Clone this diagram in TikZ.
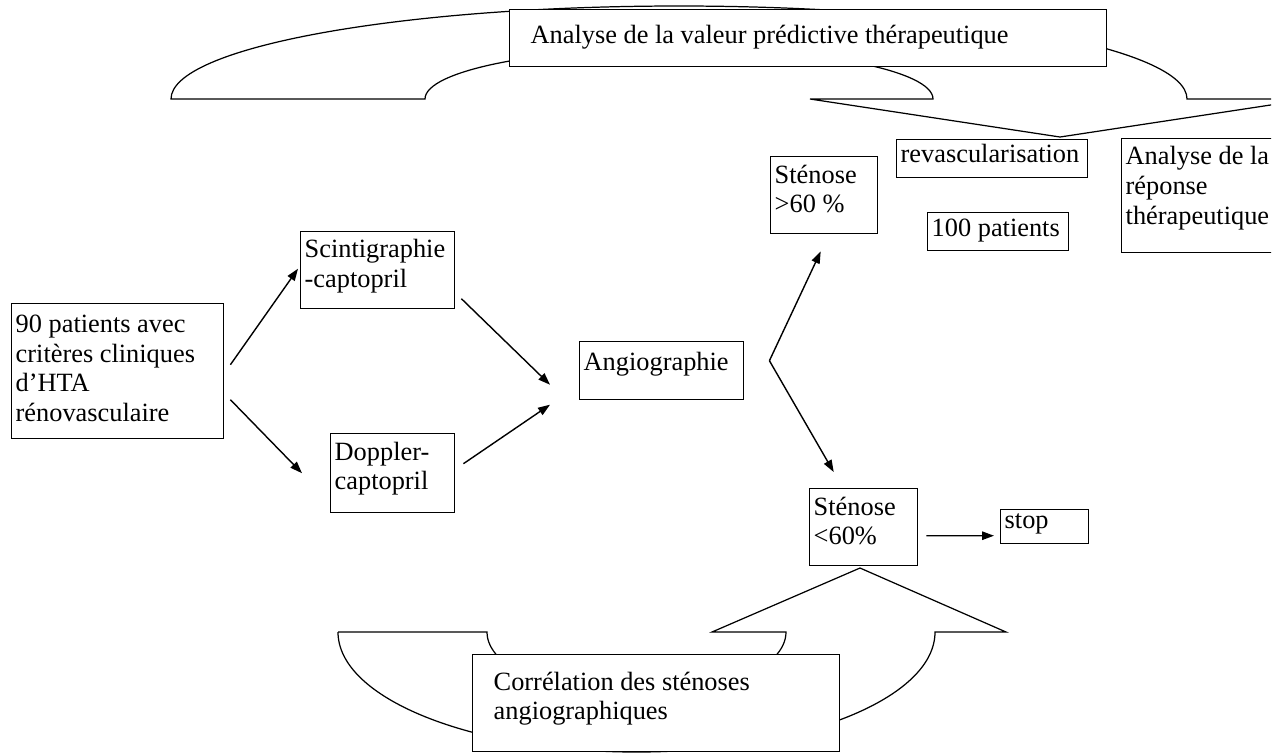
\documentclass[tikz,border=0pt]{standalone}
\usepackage{fontspec}
\setmainfont{Liberation Serif}
\usetikzlibrary{calc,arrows.meta}
\newdimen\pxunit \pxunit=0.02cm
\def\boxtext[#1:#2](#3:#4)#5{\parbox[t][#4\pxunit][t]{#3\pxunit}{\vspace*{#2\pxunit}\raggedright\leftskip=#1\pxunit\relax #5}}
\tikzset{
	pbox/.style={draw, fill=white, anchor=north west, inner sep=0pt, line width=0.8pt},
	arr/.style={-{Triangle[length=0.24cm,width=0.17cm]}, line width=0.8pt},
	bend shape/.style={draw, fill=white, line width=0.7pt},
}

\begin{document}
\begin{tikzpicture}[x=0.02cm, y=-0.02cm, font=\fontsize{15}{17}\selectfont]
			%%%%% START %%%%%
			\useasboundingbox (0,0) rectangle (1280,755);
			\clip (0,0) rectangle (1271,755);
			
			% top bent arrow, box on top of it
			\draw[bend shape] (172,99) -- (425,99) arc[start angle=180, end angle=360, x radius=254, y radius=51] -- (810,99) -- (1060,137) -- (1310,99) -- (1187,99) arc[start angle=0, end angle=-180, x radius=508, y radius=93] -- cycle;
			\node[pbox] (predict) at (509,9) {\boxtext[21:15](597:57){Analyse de la valeur prédictive thérapeutique}};
			
			% bottom bent arrow, box on top of it
			\draw[bend shape] (338,632) -- (487,632) arc[start angle=180, end angle=0, x radius=149.5, y radius=65] -- (712,632) -- (860,568) -- (1006,632) -- (935,632) arc[start angle=0, end angle=180, x radius=298.5, y radius=120] -- cycle;
			\node[pbox] (correl) at (472,654) {\boxtext[21:17](367:97){Corrélation des sténoses\\angiographiques}};
			
			\node[pbox] (pat) at (11,303) {\boxtext[4:11](212:135){90 patients avec\\critères cliniques\\d’HTA\\rénovasculaire}};
			\node[pbox] (scin) at (300,231) {\boxtext[4:8](154:77){Scintigraphie\\-captopril}};
			\node[pbox] (dopp) at (330,433) {\boxtext[4:8](124:79){Doppler-\\captopril}};
			\node[pbox] (angio) at (579,341) {\boxtext[4:10](164:58){Angiographie}};
			\node[pbox] (stenA) at (770,156) {\boxtext[4:8](107:77){Sténose\\>60 \%}};
			\node[pbox] (stenB) at (809,488) {\boxtext[4:8](108:77){Sténose\\<60\%}};
			\node[pbox] (stop) at (1000,509) {\boxtext[4:4](88:34){stop}};
			\node[pbox] (revasc) at (896,139) {\boxtext[4:5](191:38){revascularisation}};
			\node[pbox] (hundred) at (927,212) {\boxtext[4:6](141:38){100 patients}};
			\node[pbox] (reponse) at (1121,138) {\boxtext[4:8](190:114){Analyse de la\\réponse\\thérapeutique}};
			
			\coordinate (fork) at ($(angio.east)+(25,-10)$);
			
			\draw[arr] ($(pat.east)+(6,-6.5)$) -- ($(scin.west)+(-2,-1.5)$);
			\draw[arr] ($(pat.east)+(6,28.5)$) -- ($(dopp.west)+(-28,0)$);
			\draw[arr] ($(scin.east)+(6,28.5)$) -- ($(angio.west)+(-29,14)$);
			\draw[arr] ($(dopp.east)+(8,-9.5)$) -- ($(angio.west)+(-29,34)$);
			\draw[arr] (fork) -- ($(stenA.south)+(-3.5,17)$);
			\draw[arr] (fork) -- ($(stenB.north)+(-30,-16)$);
			\draw[arr] ($(stenB.east)+(8,8.5)$) -- ($(stop.west)+(-6,9)$);
			
			%%%%% END %%%%%
\end{tikzpicture}
\end{document}
